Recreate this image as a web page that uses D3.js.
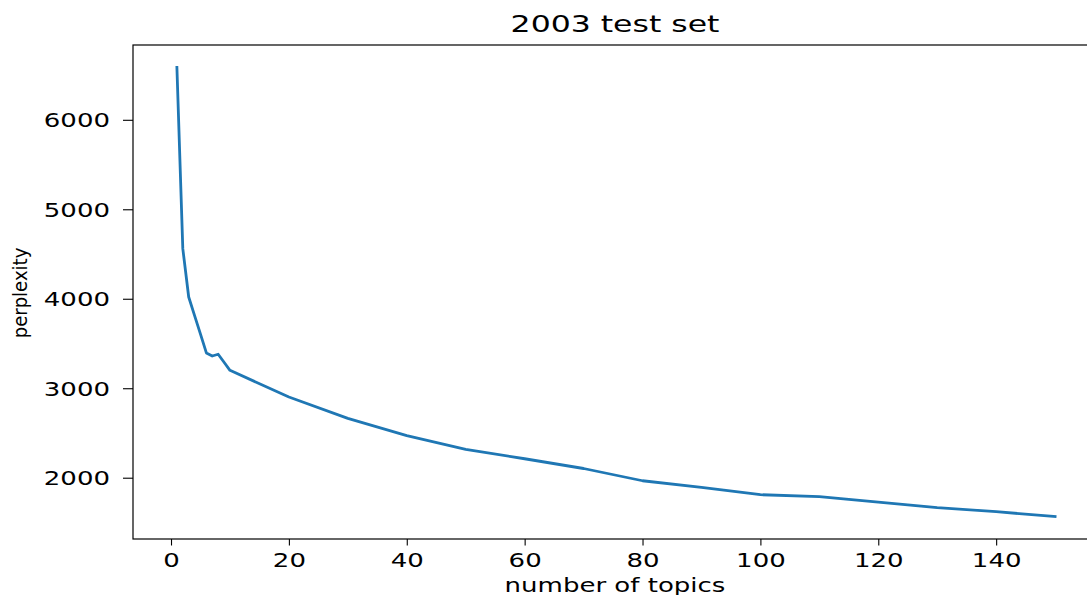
<!DOCTYPE html>
<html>
<head>
<meta charset="utf-8">
<script src="https://cdn.jsdelivr.net/npm/d3@7"></script>
<style>
  html, body { margin: 0; padding: 0; background: #fff; }
  svg { display: block; }
  text { font-family: "DejaVu Sans", sans-serif; fill: #000; }
</style>
</head>
<body>
<svg id="chart" width="1087" height="595"></svg>
<script>
// ---- data ----
const topics = [1, 2, 3, 4, 5, 6, 7, 8, 9, 10, 20, 30, 40, 50, 60, 70, 80, 90, 100, 110, 120, 130, 140, 150];
const perplexity = [6585, 4560, 4020, 3812, 3604, 3395, 3360, 3380, 3290, 3200, 2902, 2663, 2470, 2316, 2212, 2103, 1966, 1891, 1810, 1788, 1727, 1666, 1620, 1566];
const xTicks = [0, 20, 40, 60, 80, 100, 120, 140];
const yTicks = [2000, 3000, 4000, 5000, 6000];
const titleText = "2003 test set";
const xLabelText = "number of topics";
const yLabelText = "perplexity";

// ---- layout ----
const plotL = 133, plotR = 1099, plotT = 45, plotB = 539;
const SX = 1.37; // horizontal stretch of the text

const svg = d3.select("#chart");

const xMin = d3.min(topics), xMax = d3.max(topics);
const yMin = d3.min(perplexity), yMax = d3.max(perplexity);
const xm = (xMax - xMin) * 0.05, ym = (yMax - yMin) * 0.05;

const x = d3.scaleLinear().domain([xMin - xm, xMax + xm]).range([plotL, plotR]);
const y = d3.scaleLinear().domain([yMin - ym, yMax + ym]).range([plotB, plotT]);

// line
const line = d3.line().x((d, i) => x(topics[i])).y(d => y(d));
svg.append("path")
  .datum(perplexity)
  .attr("d", line)
  .attr("fill", "none")
  .attr("stroke", "#1f77b4")
  .attr("stroke-width", 2.8)
  .attr("stroke-linejoin", "round")
  .attr("stroke-linecap", "square");

// axes
const gx = svg.append("g")
  .attr("transform", `translate(0,${plotB})`)
  .call(d3.axisBottom(x).tickValues(xTicks).tickSize(6.5).tickSizeOuter(0).tickFormat(d3.format("d")));
gx.select(".domain").remove();
gx.selectAll(".tick line").attr("stroke", "#000").attr("stroke-width", 1.1);
gx.selectAll(".tick text")
  .attr("y", null).attr("dy", null)
  .attr("transform", `translate(0,28) scale(${SX},1)`)
  .style("font-size", "19px")
  .attr("fill", "#000")
  .attr("text-anchor", "middle");

const gy = svg.append("g")
  .attr("transform", `translate(${plotL},0)`)
  .call(d3.axisLeft(y).tickValues(yTicks).tickSize(10).tickSizeOuter(0).tickFormat(d3.format("d")));
gy.select(".domain").remove();
gy.selectAll(".tick line").attr("stroke", "#000").attr("stroke-width", 1.1);
gy.selectAll(".tick text")
  .attr("x", null).attr("dy", null)
  .attr("transform", `translate(-23,7) scale(${SX},1)`)
  .style("font-size", "19px")
  .attr("fill", "#000")
  .attr("text-anchor", "end");

// spines
svg.append("rect")
  .attr("x", plotL).attr("y", plotT)
  .attr("width", plotR - plotL).attr("height", plotB - plotT)
  .attr("fill", "none")
  .attr("stroke", "#000")
  .attr("stroke-width", 1.2);

// title
svg.append("text")
  .attr("transform", `translate(${(plotL + plotR) / 2 - 1},32) scale(${SX},1)`)
  .attr("text-anchor", "middle")
  .style("font-size", "23px")
  .text(titleText);

// x label
svg.append("text")
  .attr("transform", `translate(${(plotL + plotR) / 2 - 1},592) scale(${SX},1)`)
  .attr("text-anchor", "middle")
  .style("font-size", "19px")
  .text(xLabelText);

// y label
svg.append("text")
  .attr("transform", `translate(27,293) rotate(-90) scale(0.95,1)`)
  .attr("text-anchor", "middle")
  .style("font-size", "19px")
  .text(yLabelText);
</script>
</body>
</html>
